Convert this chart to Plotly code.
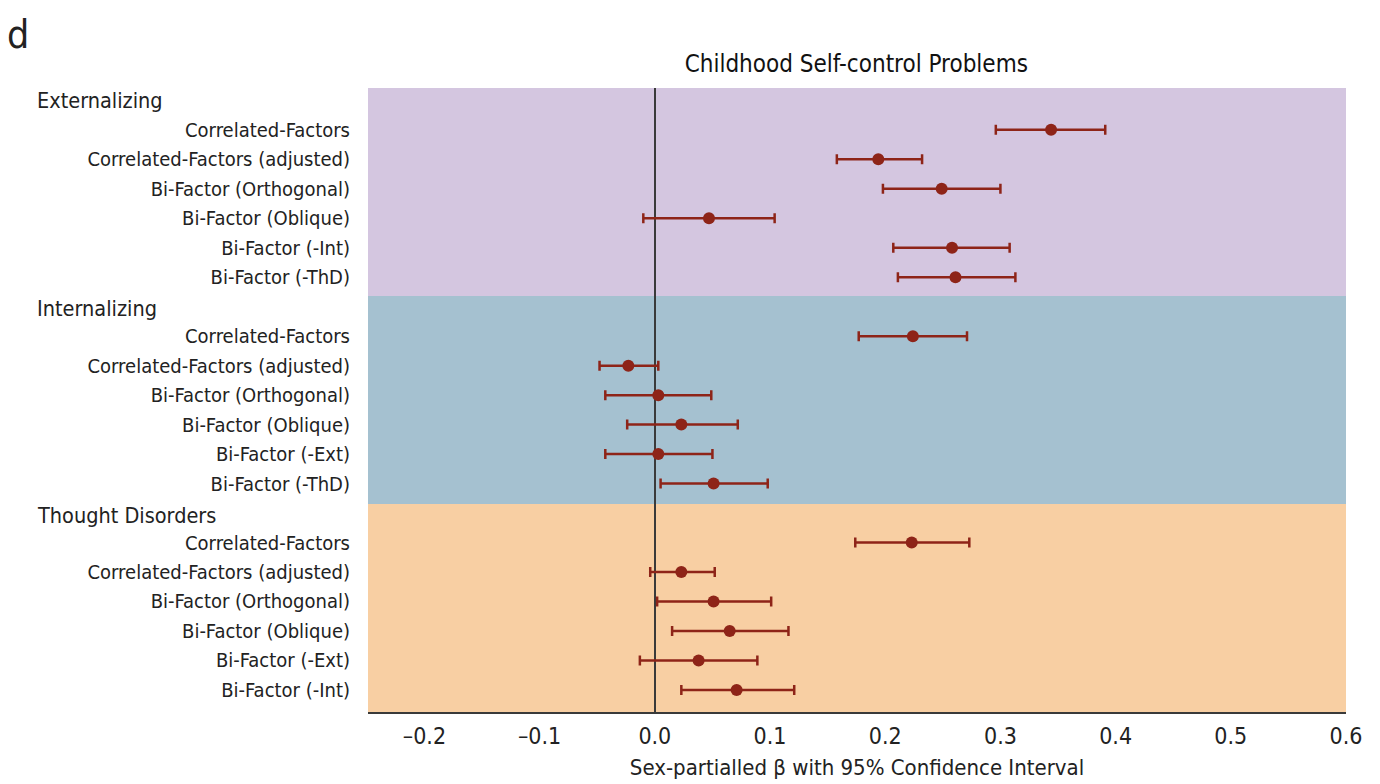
import plotly.graph_objects as go

groups = ["Externalizing", "Internalizing", "Thought Disorders"]
group_colors = ["#D4C6E0", "#A5C1D0", "#F8CFA3"]

labels_ext = ["Correlated-Factors", "Correlated-Factors (adjusted)", "Bi-Factor (Orthogonal)",
              "Bi-Factor (Oblique)", "Bi-Factor (-Int)", "Bi-Factor (-ThD)"]
labels_int = ["Correlated-Factors", "Correlated-Factors (adjusted)", "Bi-Factor (Orthogonal)",
              "Bi-Factor (Oblique)", "Bi-Factor (-Ext)", "Bi-Factor (-ThD)"]
labels_thd = ["Correlated-Factors", "Correlated-Factors (adjusted)", "Bi-Factor (Orthogonal)",
              "Bi-Factor (Oblique)", "Bi-Factor (-Ext)", "Bi-Factor (-Int)"]

est_ext = [0.344, 0.194, 0.249, 0.047, 0.258, 0.261]
lo_ext = [0.296, 0.158, 0.198, -0.010, 0.207, 0.211]
hi_ext = [0.391, 0.232, 0.300, 0.104, 0.308, 0.313]

est_int = [0.224, -0.023, 0.003, 0.023, 0.003, 0.051]
lo_int = [0.177, -0.048, -0.043, -0.024, -0.043, 0.005]
hi_int = [0.271, 0.003, 0.049, 0.072, 0.050, 0.098]

est_thd = [0.223, 0.023, 0.051, 0.065, 0.038, 0.071]
lo_thd = [0.174, -0.004, 0.002, 0.015, -0.013, 0.023]
hi_thd = [0.273, 0.052, 0.101, 0.116, 0.089, 0.121]

x_ticks = [-0.2, -0.1, 0.0, 0.1, 0.2, 0.3, 0.4, 0.5, 0.6]

FONT = "DejaVu Sans Condensed, Liberation Sans Narrow, Roboto, sans-serif"
RED = "#8E2418"

all_labels = [labels_ext, labels_int, labels_thd]
all_est = [est_ext, est_int, est_thd]
all_lo = [lo_ext, lo_int, lo_thd]
all_hi = [hi_ext, hi_int, hi_thd]

fig = go.Figure()
tickvals, ticktext = [], []
shapes, annotations = [], []
for g in range(3):
    base = g * 7
    ys = [base + 1 + i for i in range(6)]
    tickvals += ys
    ticktext += all_labels[g]
    est = all_est[g]
    fig.add_trace(go.Scatter(
        x=est, y=ys, mode="markers",
        marker=dict(color=RED, size=12),
        error_x=dict(type="data", symmetric=False,
                     array=[h - e for h, e in zip(all_hi[g], est)],
                     arrayminus=[e - l for e, l in zip(est, all_lo[g])],
                     color=RED, thickness=2.5, width=5),
        showlegend=False, hoverinfo="skip"))
    shapes.append(dict(type="rect", xref="paper", yref="paper", x0=0, x1=1,
                       y0=1 - (g + 1) / 3, y1=1 - g / 3, fillcolor=group_colors[g],
                       line=dict(width=0), layer="below"))
    annotations.append(dict(text=groups[g], xref="paper", yref="y", x=-0.3405, y=base + 0.05 * g,
                            xanchor="left", yanchor="middle", showarrow=False,
                            font=dict(family=FONT, size=21.5, color="#222")))

annotations.append(dict(text="d", xref="paper", yref="paper", x=-0.371, y=1.085,
                        xanchor="left", yanchor="middle", showarrow=False,
                        font=dict(family=FONT, size=39, color="#222")))

fig.update_layout(
    width=1380, height=784,
    margin=dict(l=368, r=34, t=88, b=72),
    paper_bgcolor="white", plot_bgcolor="white",
    title=dict(text="Childhood Self-control Problems", x=0.6205, xanchor="center",
               y=0.919, yanchor="middle", font=dict(family=FONT, size=24, color="#111")),
    shapes=shapes, annotations=annotations,
    font=dict(family=FONT, size=20, color="#222"),
    xaxis=dict(range=[-0.249, 0.6], tickvals=x_ticks,
               ticktext=[("\u2013" + f"{abs(v):.1f}") if v < 0 else f"{v:.1f}" for v in x_ticks],
               showgrid=False, zeroline=True, zerolinecolor="#3a3a3a", zerolinewidth=2,
               showline=True, linecolor="#3a3a3a", linewidth=2, ticks="",
               ticklabelstandoff=2, automargin=False,
               tickfont=dict(family=FONT, size=23, color="#222"),
               title=dict(text="Sex-partialled \u03b2 with 95% Confidence Interval",
                          font=dict(family=FONT, size=22, color="#222"), standoff=12)),
    yaxis=dict(range=[20.75, -0.42], tickvals=tickvals, ticktext=ticktext,
               showgrid=False, zeroline=False, showline=False, ticks="",
               ticklabelstandoff=17, automargin=False,
               tickfont=dict(family=FONT, size=20, color="#222")),
)

fig.write_html("out.html")
